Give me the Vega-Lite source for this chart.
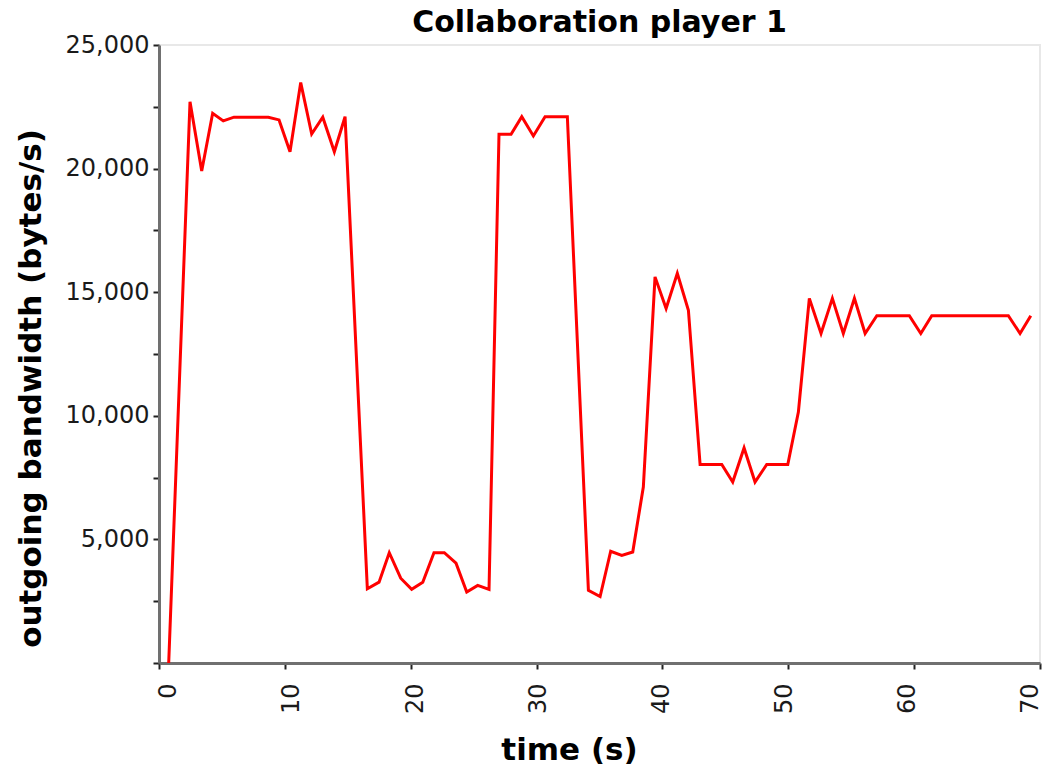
{
  "$schema": "https://vega.github.io/schema/vega-lite/v6.json",
  "autosize": {"type": "none"},
  "width": 881,
  "height": 618,
  "padding": {"left": 159, "top": 45, "right": 6, "bottom": 110},
  "background": "white",
  "config": {
    "view": {"stroke": "#e8e8e8", "strokeWidth": 2},
    "font": "DejaVu Sans"
  },
  "title": {
    "text": "Collaboration player 1",
    "font": "DejaVu Sans",
    "fontSize": 30,
    "fontWeight": "bold",
    "color": "#000000",
    "anchor": "middle",
    "frame": "group",
    "baseline": "alphabetic",
    "offset": 0,
    "dy": 29
  },
  "data": {
    "values": [
      {"t": 0, "v": 0},
      {"t": 1.73, "v": 22700},
      {"t": 2.68, "v": 19900},
      {"t": 3.57, "v": 22240},
      {"t": 4.43, "v": 21930},
      {"t": 5.30, "v": 22080},
      {"t": 8.09, "v": 22080},
      {"t": 8.96, "v": 21970},
      {"t": 9.85, "v": 20680},
      {"t": 10.72, "v": 23480},
      {"t": 11.61, "v": 21400},
      {"t": 12.51, "v": 22080},
      {"t": 13.45, "v": 20680},
      {"t": 14.32, "v": 22100},
      {"t": 16.13, "v": 3000},
      {"t": 17.08, "v": 3270},
      {"t": 17.91, "v": 4460},
      {"t": 18.84, "v": 3430},
      {"t": 19.73, "v": 2980},
      {"t": 20.63, "v": 3270},
      {"t": 21.54, "v": 4460},
      {"t": 22.38, "v": 4460},
      {"t": 23.33, "v": 4040},
      {"t": 24.20, "v": 2870},
      {"t": 25.09, "v": 3140},
      {"t": 26.01, "v": 2980},
      {"t": 26.82, "v": 21390},
      {"t": 27.80, "v": 21390},
      {"t": 28.67, "v": 22100},
      {"t": 29.61, "v": 21320},
      {"t": 30.56, "v": 22100},
      {"t": 32.37, "v": 22100},
      {"t": 34.08, "v": 2940},
      {"t": 35.03, "v": 2690},
      {"t": 35.89, "v": 4520},
      {"t": 36.79, "v": 4350},
      {"t": 37.68, "v": 4490},
      {"t": 38.54, "v": 7120},
      {"t": 39.49, "v": 15620},
      {"t": 40.39, "v": 14340},
      {"t": 41.30, "v": 15760},
      {"t": 42.20, "v": 14270},
      {"t": 43.15, "v": 8030},
      {"t": 44.91, "v": 8030},
      {"t": 45.80, "v": 7320},
      {"t": 46.72, "v": 8700},
      {"t": 47.61, "v": 7320},
      {"t": 48.56, "v": 8030},
      {"t": 50.27, "v": 8030},
      {"t": 51.13, "v": 10150},
      {"t": 52.02, "v": 14750},
      {"t": 52.97, "v": 13330},
      {"t": 53.89, "v": 14750},
      {"t": 54.78, "v": 13330},
      {"t": 55.68, "v": 14750},
      {"t": 56.55, "v": 13330},
      {"t": 57.50, "v": 14050},
      {"t": 60.14, "v": 14050},
      {"t": 61.07, "v": 13330},
      {"t": 61.96, "v": 14050},
      {"t": 68.18, "v": 14050},
      {"t": 69.13, "v": 13330},
      {"t": 70.0, "v": 14050}
    ]
  },
  "layer": [
    {
      "mark": {"type": "line", "color": "#ff0000", "strokeWidth": 3, "clip": true},
      "encoding": {
        "x": {
          "field": "t",
          "type": "quantitative",
          "scale": {"domain": [-0.788, 70.75], "nice": false, "zero": false},
          "axis": {
            "orient": "bottom",
            "title": "time (s)",
            "values": [0, 10, 20, 30, 40, 50, 60, 70],
            "grid": false,
            "domain": false,
            "ticks": false,
            "tickSize": 0,
            "labelAngle": 270,
            "labelAlign": "right",
            "labelBaseline": "middle",
            "labelPadding": 20,
            "labelFont": "DejaVu Sans",
            "labelFontSize": 24,
            "labelColor": "#1a1a1a",
            "titleFont": "DejaVu Sans",
            "titleFontSize": 31,
            "titleFontWeight": "bold",
            "titleColor": "#000000",
            "titleX": 410,
            "titleY": 87,
            "titleBaseline": "middle",
            "titleAlign": "center"
          }
        },
        "y": {
          "field": "v",
          "type": "quantitative",
          "scale": {"domain": [0, 25000], "nice": false},
          "axis": {
            "title": "outgoing bandwidth (bytes/s)",
            "values": [0, 2500, 5000, 7500, 10000, 12500, 15000, 17500, 20000, 22500, 25000],
            "labelExpr": "datum.value > 0 && datum.value % 5000 === 0 ? format(datum.value, ',') : ''",
            "grid": false,
            "domainColor": "#707070",
            "domainWidth": 3,
            "tickColor": "#222222",
            "tickWidth": 2,
            "tickSize": 6,
            "labelPadding": 4,
            "labelFont": "DejaVu Sans",
            "labelFontSize": 24,
            "labelColor": "#1a1a1a",
            "titleFont": "DejaVu Sans",
            "titleFontSize": 31,
            "titleFontWeight": "bold",
            "titleColor": "#000000",
            "titleAngle": 270,
            "titleX": -128,
            "titleY": 343,
            "titleBaseline": "middle",
            "titleAlign": "center"
          }
        }
      }
    },
    {
      "mark": {"type": "point", "opacity": 0, "size": 0},
      "encoding": {
        "x": {
          "field": "t",
          "type": "quantitative",
          "scale": {"domain": [0, 70], "nice": false, "zero": false},
          "axis": {
            "orient": "bottom",
            "title": null,
            "values": [0, 10, 20, 30, 40, 50, 60, 70],
            "labels": false,
            "grid": false,
            "domainColor": "#707070",
            "domainWidth": 3,
            "tickColor": "#222222",
            "tickWidth": 2,
            "tickSize": 6
          }
        }
      }
    }
  ],
  "resolve": {"scale": {"x": "independent"}, "axis": {"x": "independent"}}
}
